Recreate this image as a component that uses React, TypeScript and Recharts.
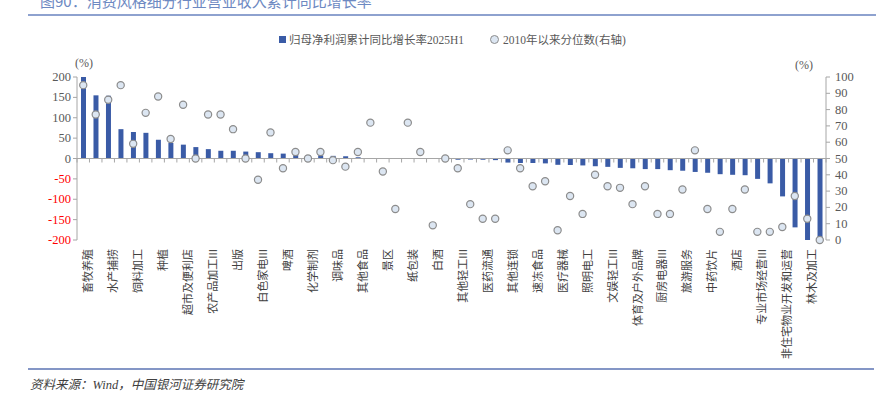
import { ComposedChart, Bar, Line, XAxis, YAxis, ReferenceLine } from "recharts";

// ================= DATA =================
// 60 industries, only every other one carries a label in the source chart
const tickLabels = [
  "畜牧养殖", "水产捕捞", "饲料加工", "种植", "超市及便利店",
  "农产品加工III", "出版", "白色家电III", "啤酒", "化学制剂",
  "调味品", "其他食品", "景区", "纸包装", "白酒",
  "其他轻工III", "医药流通", "其他连锁", "速冻食品", "医疗器械",
  "照明电工", "文娱轻工III", "体育及户外品牌", "厨房电器III", "旅游服务",
  "中药饮片", "酒店", "专业市场经营III", "非住宅物业开发和运营", "林木及加工",
];

// 归母净利润累计同比增长率2025H1 (%)
const growth = [
  200, 155, 154, 72, 65, 63, 46, 38, 34, 28,
  23, 19, 19, 17, 15.5, 13, 12, 9, 8, 8,
  6.5, 5.5, 3, 1, 0.5, 0.5, 0.3, 0, 0, -0.3,
  -3, -2.5, -3, -4, -10, -11, -11, -12, -15.5, -16,
  -17, -19, -20.5, -23, -24, -26, -26, -28.7, -30, -33,
  -35, -38.5, -40, -41, -50, -61, -93, -169, -200, -200,
];

// 2010年以来分位数 (右轴, %)
const percentile = [
  95, 77, 86, 95, 59, 78, 88, 62, 83, 50,
  77, 77, 68, 50, 37, 66, 44, 54, 50, 54,
  49, 45, 54, 72, 42, 19, 72, 54, 9, 50,
  44, 22, 13, 13, 55, 44, 33, 36, 6, 27,
  16, 40, 33, 32, 22, 33, 16, 16, 31, 55,
  19, 5, 19, 31, 5, 5, 8, 27, 13, 0,
];

const leftTicks = [-200, -150, -100, -50, 0, 50, 100, 150, 200];
const rightTicks = [0, 10, 20, 30, 40, 50, 60, 70, 80, 90, 100];

const data = growth.map((g, i) => ({
  idx: i,
  growth: g,
  pct: percentile[i],
}));

// ================= LAYOUT =================
const W = 876;
const H = 396;
const PLOT_LEFT = 77;
const PLOT_RIGHT = 826;
const PLOT_TOP = 77;
const PLOT_BOTTOM = 240;
const LEFT_DOMAIN: [number, number] = [-200, 200];

const BAR_COLOR = "#3a5ba6";
const AXIS_COLOR = "#a6a6a6";
const TEXT_COLOR = "#595959";
const SERIF = "'Liberation Serif', 'Noto Sans CJK SC', serif";
const CJK = "'Noto Sans CJK SC', 'Liberation Serif', sans-serif";

const zeroY =
  PLOT_TOP +
  ((LEFT_DOMAIN[1] - 0) / (LEFT_DOMAIN[1] - LEFT_DOMAIN[0])) *
    (PLOT_BOTTOM - PLOT_TOP);
const bandW = (PLOT_RIGHT - PLOT_LEFT) / growth.length;

// eslint-disable-next-line
function CategoryTick({ x, payload }: any) {
  const i = payload.index;
  const label = i % 2 === 0 ? tickLabels[i / 2] : "";
  const lx = x + 9;
  const ly = PLOT_BOTTOM + 9;
  return (
    <g>
      {/* small tick marks hanging under the zero line, on band edges */}
      <line
        x1={x - bandW / 2}
        x2={x - bandW / 2}
        y1={zeroY}
        y2={zeroY + 4}
        stroke={AXIS_COLOR}
      />
      {i === growth.length - 1 && (
        <line
          x1={x + bandW / 2}
          x2={x + bandW / 2}
          y1={zeroY}
          y2={zeroY + 4}
          stroke={AXIS_COLOR}
        />
      )}
      {label && (
        <text
          x={lx}
          y={ly}
          transform={`rotate(-90, ${lx}, ${ly})`}
          textAnchor="end"
          fontSize={11}
          fill="#404040"
          fontFamily={CJK}
        >
          {label}
        </text>
      )}
    </g>
  );
}

// eslint-disable-next-line
function LeftTick({ x, y, payload }: any) {
  return (
    <text
      x={x}
      y={y}
      dy={4}
      textAnchor="end"
      fontSize={12.5}
      fontFamily={SERIF}
      fill={payload.value < 0 ? "#ff0000" : TEXT_COLOR}
    >
      {payload.value}
    </text>
  );
}

// eslint-disable-next-line
function RightTick({ x, y, payload }: any) {
  return (
    <text
      x={x}
      y={y}
      dy={4}
      textAnchor="start"
      fontSize={12.5}
      fontFamily={SERIF}
      fill={TEXT_COLOR}
    >
      {payload.value}
    </text>
  );
}

export default function App() {
  return (
    <div
      style={{
        position: "absolute",
        left: 0,
        top: 0,
        width: W,
        height: H,
        overflow: "hidden",
        background: "#fff",
        fontFamily: CJK,
      }}
    >
      {/* title, cut off at the top like the source */}
      <div
        style={{
          position: "absolute",
          left: 40,
          top: -10,
          fontSize: 15,
          color: "#6d89c2",
          whiteSpace: "nowrap",
        }}
      >
        图90：消费风格细分行业营业收入累计同比增长率
      </div>
      <div
        style={{
          position: "absolute",
          left: 28,
          right: 0,
          top: 14,
          height: 2,
          background: "#8ea2cf",
        }}
      />

      {/* legend */}
      <div
        style={{
          position: "absolute",
          left: 279,
          top: 31,
          display: "flex",
          alignItems: "center",
          fontSize: 11.5,
          color: TEXT_COLOR,
          fontFamily: SERIF,
          whiteSpace: "nowrap",
        }}
      >
        <span
          style={{ width: 7, height: 7, background: BAR_COLOR, marginRight: 3 }}
        />
        <span>归母净利润累计同比增长率2025H1</span>
        <span
          style={{
            width: 7,
            height: 7,
            borderRadius: "50%",
            background: "#dce6f2",
            border: "1px solid #8c8c8c",
            marginLeft: 26,
            marginRight: 4,
          }}
        />
        <span>2010年以来分位数(右轴)</span>
      </div>

      {/* axis units */}
      <div
        style={{
          position: "absolute",
          left: 75,
          top: 56,
          fontSize: 12,
          color: TEXT_COLOR,
          fontFamily: SERIF,
        }}
      >
        (%)
      </div>
      <div
        style={{
          position: "absolute",
          left: 795,
          top: 58,
          fontSize: 12,
          color: TEXT_COLOR,
          fontFamily: SERIF,
        }}
      >
        (%)
      </div>

      <div style={{ position: "absolute", left: 0, top: 0 }}>
        <ComposedChart
          width={W}
          height={H}
          data={data}
          margin={{
            top: PLOT_TOP,
            left: PLOT_LEFT - 50,
            right: W - PLOT_RIGHT - 45,
            bottom: 26,
          }}
          barCategoryGap={0}
        >
          <XAxis
            dataKey="idx"
            type="category"
            interval={0}
            height={H - PLOT_BOTTOM - 26}
            axisLine={false}
            tickLine={false}
            tick={<CategoryTick />}
          />
          <YAxis
            yAxisId="left"
            width={50}
            domain={LEFT_DOMAIN}
            ticks={leftTicks}
            interval={0}
            tickSize={4}
            tickMargin={2}
            axisLine={{ stroke: AXIS_COLOR }}
            tickLine={{ stroke: AXIS_COLOR }}
            tick={<LeftTick />}
            allowDataOverflow
          />
          <YAxis
            yAxisId="right"
            orientation="right"
            width={45}
            domain={[0, 100]}
            ticks={rightTicks}
            interval={0}
            tickSize={4}
            tickMargin={5}
            axisLine={{ stroke: AXIS_COLOR }}
            tickLine={{ stroke: AXIS_COLOR }}
            tick={<RightTick />}
          />
          <ReferenceLine yAxisId="left" y={0} stroke={AXIS_COLOR} strokeWidth={1.2} />
          <Bar
            yAxisId="left"
            dataKey="growth"
            fill={BAR_COLOR}
            barSize={5}
            isAnimationActive={false}
          />
          <Line
            yAxisId="right"
            dataKey="pct"
            stroke="none"
            dot={{ r: 3.6, fill: "#dce6f2", stroke: "#8c8c8c", strokeWidth: 1.2 }}
            activeDot={false}
            isAnimationActive={false}
          />
        </ComposedChart>
      </div>

      {/* footer */}
      <div
        style={{
          position: "absolute",
          left: 28,
          width: 846,
          top: 368,
          height: 2,
          background: "#8496c6",
        }}
      />
      <div
        style={{
          position: "absolute",
          left: 30,
          top: 374,
          fontSize: 12.5,
          fontStyle: "italic",
          color: "#404040",
          fontFamily: SERIF,
          whiteSpace: "nowrap",
        }}
      >
        资料来源：Wind，中国银河证券研究院
      </div>
    </div>
  );
}
